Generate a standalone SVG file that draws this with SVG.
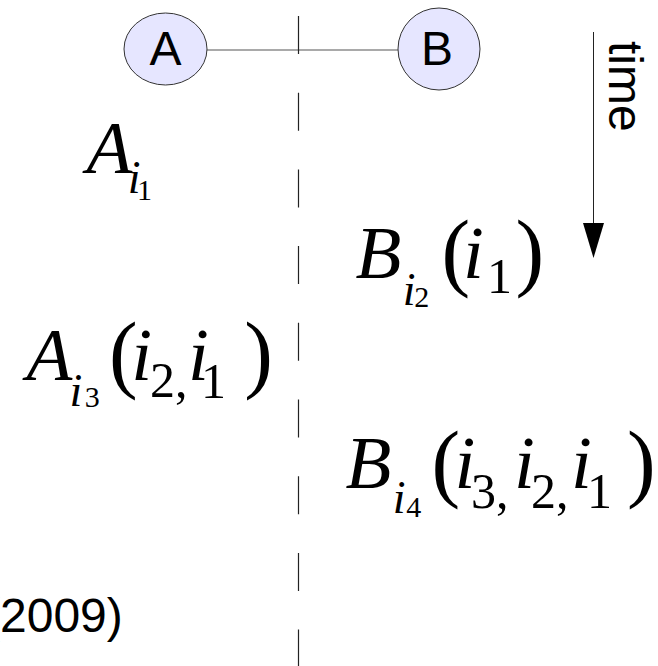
<svg xmlns="http://www.w3.org/2000/svg" width="658" height="666" viewBox="0 0 658 666">
<style>
.node{fill:#e6e6ff;stroke:#333;stroke-width:1}
.lbl{font-family:"Liberation Sans",Arial,sans-serif;font-size:48px;fill:#000}
.m{font-family:"Liberation Serif","Times New Roman",serif;font-style:italic;fill:#000}
.r{font-family:"Liberation Serif","Times New Roman",serif;fill:#000}
.main{font-size:75px}
.sub{font-size:46px}
.dig{font-size:50px}
.ss{font-size:30px}
.par{font-size:86px}
</style>
<g id="connectors">
<line x1="207" y1="50" x2="398" y2="50" stroke="#555" stroke-width="1.2"/>
<line x1="298.5" y1="16" x2="298.5" y2="666" stroke="#222" stroke-width="1.2" stroke-dasharray="38 38.7"/>
<line x1="593.5" y1="32" x2="593.5" y2="224" stroke="#222" stroke-width="1"/>
<path d="M583,223 L604,223 L593.5,258 Z" fill="#000"/>
</g>
<g id="nodeA">
<ellipse class="node" cx="165.5" cy="49" rx="41.5" ry="36"/>
<text class="lbl" x="165.5" y="65" text-anchor="middle">A</text>
</g>
<g id="nodeB">
<circle class="node" cx="439" cy="49" r="41"/>
<text class="lbl" x="437" y="65" text-anchor="middle">B</text>
</g>
<g id="time">
<text class="lbl" transform="translate(609,41) rotate(90)" x="0" y="0">time</text>
</g>
<g id="f1">
<text class="m main" x="86.5" y="172.5">A</text>
<text class="m sub" x="127.8" y="192.8">i</text>
<text class="r ss" x="137" y="200">1</text>
</g>
<g id="f2">
<text class="m main" x="355.6" y="278">B</text>
<text class="m sub" x="402.8" y="304.5">i</text>
<text class="r ss" x="414.2" y="306.7">2</text>
<text class="r par" x="441.4" y="280">(</text>
<text class="m main" x="463" y="278">i</text>
<text class="r dig" x="487" y="293">1</text>
<text class="r par" x="515.5" y="280">)</text>
</g>
<g id="f3">
<text class="m main" x="26.5" y="380">A</text>
<text class="m sub" x="69.5" y="406">i</text>
<text class="r ss" x="84.8" y="406.6">3</text>
<text class="r par" x="108.9" y="382">(</text>
<text class="m main" x="131.3" y="380">i</text>
<text class="r dig" x="150" y="397">2,</text>
<text class="m main" x="188" y="380">i</text>
<text class="r dig" x="201" y="398">1</text>
<text class="r par" x="244.2" y="382">)</text>
</g>
<g id="f4">
<text class="m main" x="345.6" y="488">B</text>
<text class="m sub" x="392.8" y="513">i</text>
<text class="r ss" x="406.3" y="516.7">4</text>
<text class="r par" x="431.4" y="490.5">(</text>
<text class="m main" x="454.6" y="488">i</text>
<text class="r dig" x="471" y="508">3,</text>
<text class="m main" x="514" y="488">i</text>
<text class="r dig" x="531" y="508">2,</text>
<text class="m main" x="571" y="488">i</text>
<text class="r dig" x="587" y="508">1</text>
<text class="r par" x="627" y="490.5">)</text>
</g>
<g id="cite">
<text class="lbl" x="-16" y="632">(2009)</text>
</g>
</svg>
